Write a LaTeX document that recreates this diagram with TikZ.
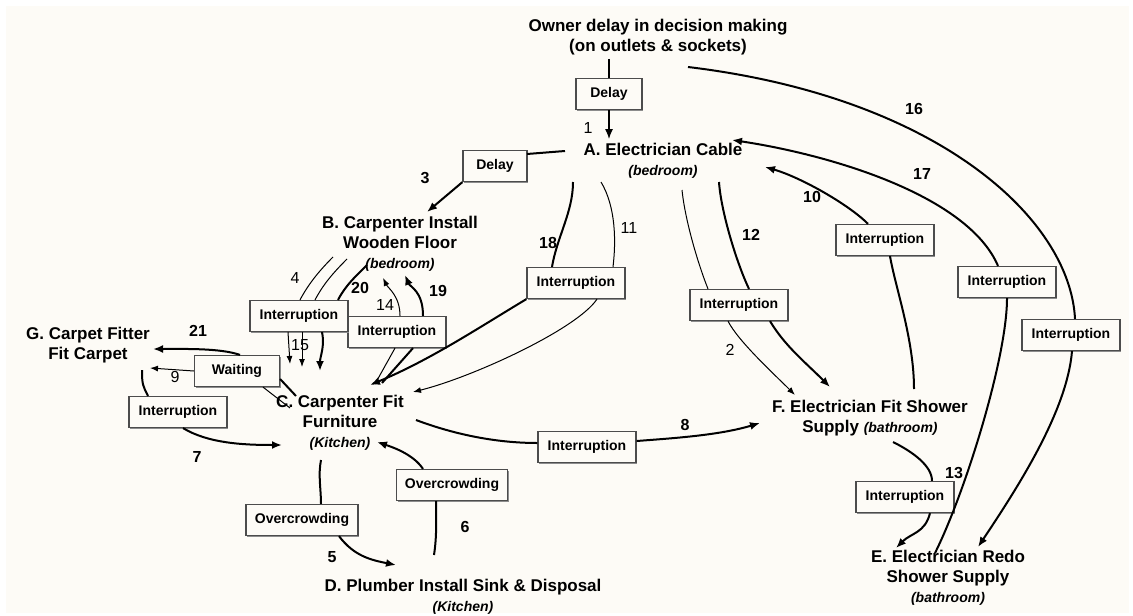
\documentclass[tikz,border=0pt]{standalone}
\usepackage{fontspec}
\setmainfont{Liberation Sans}
\usetikzlibrary{arrows.meta,shadows}
\definecolor{paper}{RGB}{253,251,246}
\newcommand{\roomtag}[1]{{\fontsize{7}{8}\selectfont\itshape #1}}
\tikzset{
  task/.style  = {align=center, inner sep=0pt,
                  font=\fontsize{8.5}{10}\selectfont\bfseries},
  cause/.style = {draw=black!70, line width=0.6pt, fill=paper,
                  drop shadow={shadow xshift=0.7pt, shadow yshift=-0.7pt,
                               fill=black!45, opacity=1},
                  minimum width=49pt, minimum height=15.5pt, inner sep=0pt,
                  font=\fontsize{7}{8}\selectfont\bfseries},
  num/.style   = {inner sep=0pt, font=\fontsize{8}{9}\selectfont\bfseries},
  lnum/.style  = {inner sep=0pt, font=\fontsize{8}{9}\selectfont},
  heavy/.style = {line width=1pt},
  light/.style = {line width=0.5pt},
  tip/.style   = {-{Latex[length=5pt,width=4pt]}},
  ltip/.style  = {-{Latex[length=4pt,width=3pt]}}
}

\begin{document}
\begin{tikzpicture}[x=0.5pt,y=-0.5pt]
 \fill[white] (0,0) rectangle (1133,615);
 \fill[paper] (6,6) rectangle (1129,613);
 \useasboundingbox (0,0) rectangle (1133,615);

 % activities
 \node[task] (own) at (658,37) {Owner delay in decision making\\(on outlets \& sockets)};
 \node[task] (A) at (663,161) {A. Electrician Cable\\\roomtag{(bedroom)}};
 \node[task] (B) at (400,244) {B. Carpenter Install\\Wooden Floor\\\roomtag{(bedroom)}};
 \node[task] (C) at (340,423) {C. Carpenter Fit\\Furniture\\\roomtag{(Kitchen)}};
 \node[task] (D) at (463,597) {D. Plumber Install Sink \& Disposal\\\roomtag{(Kitchen)}};
 \node[task] (E) at (948,578) {E. Electrician Redo\\Shower Supply\\\roomtag{(bathroom)}};
 \node[task] (F) at (870,418) {F. Electrician Fit Shower\\Supply \roomtag{(bathroom)}};
 \node[task] (G) at (88,345) {G. Carpet Fitter\\Fit Carpet};

 % causes
 \node[cause, minimum width=33pt] (dly1) at (609,94) {Delay};
 \node[cause, minimum width=32pt] (dly3) at (495,166) {Delay};
 \node[cause] (int18) at (576,283) {Interruption};
 \node[cause] (int12) at (739,305) {Interruption};
 \node[cause] (int10) at (885,240) {Interruption};
 \node[cause] (int17) at (1007,282) {Interruption};
 \node[cause] (int16) at (1071,335) {Interruption};
 \node[cause] (int14) at (397,332) {Interruption};
 \node[cause] (int4) at (299,316) {Interruption};
 \node[cause, minimum width=42.5pt] (wait9) at (237,371) {Waiting};
 \node[cause] (int7) at (178,412) {Interruption};
 \node[cause] (int8) at (587,447) {Interruption};
 \node[cause, minimum width=55.5pt] (ovc6) at (452,485) {Overcrowding};
 \node[cause, minimum width=56pt] (ovc5) at (302,520) {Overcrowding};
 \node[cause] (int13) at (905,497) {Interruption};

 % 1 and 3
 \draw[line width=0.6pt] ([shift={(-49,22)}]own.center) -- (dly1.north);
 \draw[line width=0.6pt, tip] (dly1.south) -- ([shift={(-54,-22)}]A.center);
 \draw[heavy] ([shift={(-98,-10)}]A.center) -- ([shift={(32,-12)}]dly3.center);
 \draw[heavy, tip] (dly3.south west) -- ([shift={(27,-32)}]B.center);

 % A down to C and F
 \draw[heavy] ([shift={(-90,21)}]A.center) .. controls +(0,30) and +(5,-30) .. ([shift={(-24,0)}]int18.north);
 \draw[heavy, tip] (int18.south west) .. controls +(-50,30) and +(60,-25) .. ([shift={(30,-38)}]C.center);
 \draw[light] ([shift={(-62,21)}]A.center) .. controls +(15,25) and +(3,-25) .. ([shift={(37,0)}]int18.north);
 \draw[light, ltip] ([shift={(21,0)}]int18.south) .. controls +(-20,30) and +(60,-15) .. ([shift={(73,-31)}]C.center);
 \draw[light] ([shift={(19,29)}]A.center) .. controls +(3,30) and +(-10,-25) .. ([shift={(-31,0)}]int12.north);
 \draw[light, ltip] ([shift={(-11,0)}]int12.south) .. controls +(10,20) and +(-20,-20) .. ([shift={(-75,-23)}]F.center);
 \draw[heavy] ([shift={(56,21)}]A.center) .. controls +(2,30) and +(-12,-25) .. ([shift={(10,0)}]int12.north);
 \draw[heavy, tip] ([shift={(31,0)}]int12.south) .. controls +(15,25) and +(-25,-25) .. ([shift={(-40,-31)}]F.center);

 % back to A, and on to E
 \draw[heavy] ([shift={(44,-29)}]F.center) .. controls +(0,-50) and +(5,30) .. ([shift={(5,0)}]int10.south);
 \draw[heavy, tip] ([shift={(-17,0)}]int10.north) .. controls +(-20,-20) and +(35,10) .. ([shift={(102,6)}]A.center);
 \draw[heavy] ([shift={(-13,-25)}]E.center) .. controls +(30,-60) and +(0,60) .. (int17.south);
 \draw[heavy, tip] ([shift={(-9,0)}]int17.north) .. controls +(-30,-70) and +(100,15) .. ([shift={(69,-21)}]A.center);
 \draw[heavy] ([shift={(30,30)}]own.center) .. controls +(250,30) and +(-5,-100) .. ([shift={(4,0)}]int16.north);
 \draw[heavy, tip] ([shift={(1,0)}]int16.south) .. controls +(-5,60) and +(40,-60) .. ([shift={(30,-31)}]E.center);
 \draw[heavy] ([shift={(23,24)}]F.center) .. controls +(20,10) and +(0,-15) .. ([shift={(27,0)}]int13.north);
 \draw[heavy, tip] ([shift={(25,0)}]int13.south) .. controls +(-5,20) and +(15,-15) .. ([shift={(-52,-30)}]E.center);

 % C, D, F
 \draw[heavy] ([shift={(76,-3)}]C.center) .. controls +(40,15) and +(-40,0) .. ([shift={(0,-4)}]int8.west);
 \draw[heavy, tip] ([shift={(0,-6)}]int8.east) .. controls +(40,-3) and +(-40,12) .. ([shift={(-110,5)}]F.center);
 \draw[heavy] ([shift={(-29,-42)}]D.center) .. controls +(3,-20) and +(0,20) .. ([shift={(-16,0)}]ovc6.south);
 \draw[heavy, tip] ([shift={(-29,0)}]ovc6.north) .. controls +(-10,-15) and +(15,5) .. ([shift={(37,19)}]C.center);
 \draw[heavy] ([shift={(-19,37)}]C.center) .. controls +(-3,15) and +(0,-15) .. ([shift={(19,0)}]ovc5.north);
 \draw[heavy, tip] ([shift={(37,0)}]ovc5.south) .. controls +(15,20) and +(-25,-5) .. ([shift={(-67,-32)}]D.center);

 % G and C
 \draw[heavy] ([shift={(54,25)}]G.center) .. controls +(0,15) and +(-5,-10) .. ([shift={(-30,0)}]int7.north);
 \draw[heavy, tip] ([shift={(5,0)}]int7.south) .. controls +(25,15) and +(-40,0) .. ([shift={(-58,22)}]C.center);
 \draw[light] ([shift={(-50,-15)}]C.center) -- ([shift={(26,0)}]wait9.south);
 \draw[light, ltip] (wait9.west) -- ([shift={(62,23)}]G.center);
 \draw[heavy] ([shift={(-44,-27)}]C.center) -- ([shift={(0,8)}]wait9.east);
 \draw[heavy, tip] ([shift={(3,0)}]wait9.north) .. controls +(-20,-7) and +(30,0) .. ([shift={(65,4)}]G.center);

 % B and C
 \draw[light] ([shift={(-67,13)}]B.center) .. controls +(-15,15) and +(8,-15) .. ([shift={(1,0)}]int4.north);
 \draw[light, ltip] ([shift={(-11,0)}]int4.south) -- ([shift={(-50,-59)}]C.center);
 \draw[light] ([shift={(-53,15)}]B.center) .. controls +(-15,15) and +(8,-15) .. ([shift={(16,0)}]int4.north);
 \draw[light, ltip] ([shift={(3,0)}]int4.south) -- ([shift={(-38,-56)}]C.center);
 \draw[heavy] ([shift={(-33,21)}]B.center) .. controls +(-12,12) and +(8,-15) .. ([shift={(39,0)}]int4.north);
 \draw[heavy, tip] ([shift={(23,0)}]int4.south) .. controls +(3,15) and +(0,-15) .. ([shift={(-20,-52)}]C.center);
 \draw[light] ([shift={(35,-39)}]C.center) -- ([shift={(-2,0)}]int14.south);
 \draw[light, ltip] ([shift={(3,0)}]int14.north) .. controls +(0,-20) and +(5,10) .. ([shift={(-17,34)}]B.center);
 \draw[heavy] ([shift={(42,-40)}]C.center) -- ([shift={(16,0)}]int14.south);
 \draw[heavy, tip] ([shift={(26,0)}]int14.north) .. controls +(0,-25) and +(5,12) .. ([shift={(5,31)}]B.center);

 % numbers
 \node[lnum] (n1) at (588,128) {1};
 \node[num] (n3) at (425,178) {3};
 \node[num] (n18) at (548,243) {18};
 \node[lnum] (n11) at (629,228) {11};
 \node[num] (n12) at (751,235) {12};
 \node[lnum] (n2) at (730,350) {2};
 \node[num] (n10) at (812,197) {10};
 \node[num] (n17) at (922,174) {17};
 \node[num] (n16) at (914,109) {16};
 \node[num] (n13) at (954,473) {13};
 \node[num] (n8) at (685,425) {8};
 \node[num] (n6) at (465,527) {6};
 \node[num] (n5) at (332,557) {5};
 \node[num] (n7) at (197,457) {7};
 \node[lnum] (n9) at (175,377) {9};
 \node[num] (n21) at (198,331) {21};
 \node[lnum] (n4) at (295,278) {4};
 \node[lnum] (n15) at (300,345) {15};
 \node[num] (n20) at (360,288) {20};
 \node[lnum] (n14) at (385,305) {14};
 \node[num] (n19) at (438,291) {19};
\end{tikzpicture}
\end{document}
